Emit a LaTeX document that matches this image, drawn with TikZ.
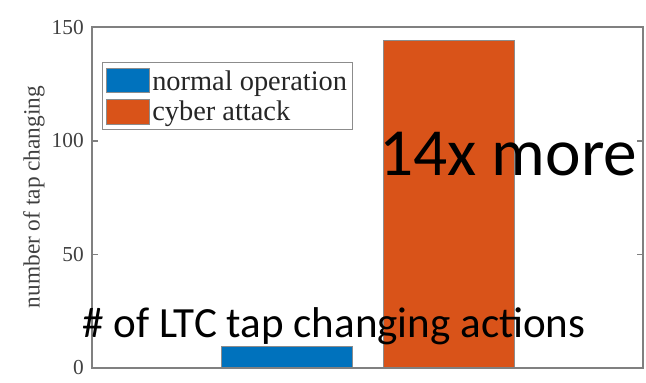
\documentclass[tikz,border=0pt]{standalone}
\usepackage{fontspec}
\setmainfont{Liberation Serif}
\newfontfamily\calib{Carlito}
\begin{document}
\begin{tikzpicture}[x=0.75pt,y=-0.75pt,
  axisline/.style={draw=black!50,line width=0.9pt},
  barblue/.style={fill={rgb,255:red,0;green,114;blue,189},draw=black!45,line width=0.6pt},
  barorange/.style={fill={rgb,255:red,217;green,83;blue,25},draw=black!45,line width=0.6pt},
  ticklab/.style={anchor=east,inner sep=0pt,text=black!75,font=\fontsize{16}{16}\selectfont},
  legtext/.style={anchor=base west,inner sep=0pt,text=black!85,font=\fontsize{21.3}{21.3}\selectfont},
  bigtext/.style={anchor=base west,inner sep=0pt,font=\calib\fontsize{50.5}{50.5}\selectfont},
  midtext/.style={anchor=base west,inner sep=0pt,font=\calib\fontsize{32.3}{32.3}\selectfont}]
\useasboundingbox (0,0) rectangle (646,382);
% bars
\path[barblue] (221,368) rectangle (352,346);
\path[barorange] (383,368) rectangle (514,40);
% axes box
\draw[axisline] (92,27) rectangle (643,368);
% y ticks (left and right)
\foreach \yy in {368,254.5,141,27.5}{
  \draw[axisline] (92,\yy) -- (98,\yy);
  \draw[axisline] (643,\yy) -- (637,\yy);
}
\node[ticklab] (t0) at (84,368) {0};
\node[ticklab] (t50) at (84,254.5) {50};
\node[ticklab] (t100) at (84,141) {100};
\node[ticklab] (t150) at (84,28) {150};
% y axis label
\node[rotate=90,inner sep=0pt,text=black!75,font=\fontsize{17.5}{17.5}\selectfont] (ylab) at (34,197) {number of tap changing};
% legend
\draw[draw=black!45,line width=0.7pt,fill=white] (102,62) rectangle (352,129);
\path[barblue] (106,68) rectangle (149,92);
\path[barorange] (106,99) rectangle (149,124);
\node[legtext] (l1) at (152,90) {normal operation};
\node[legtext] (l2) at (152,120) {cyber attack};
% annotations
\node[bigtext] (ann1) at (379,175) {14x more};
\node[midtext] (ann2) at (82,337) {\# of LTC tap changing actions};
\end{tikzpicture}
\end{document}
